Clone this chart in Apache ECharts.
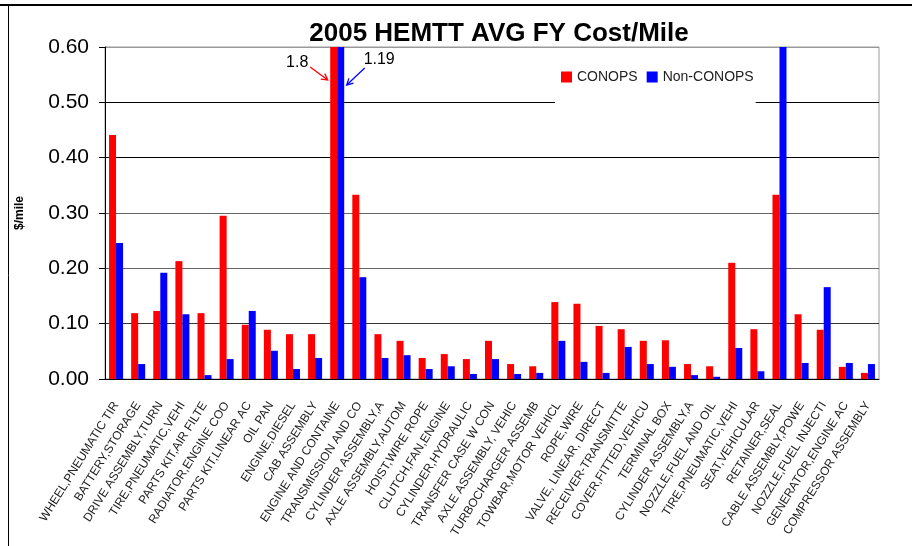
<!DOCTYPE html>
<html>
<head>
<meta charset="utf-8">
<script src="https://cdn.jsdelivr.net/npm/echarts@6/dist/echarts.min.js"></script>
<style>
  html, body { margin: 0; padding: 0; background: #fff; }
  #main { width: 912px; height: 546px; }
</style>
</head>
<body>
<div id="main"></div>
<script>
// categories (parts) and cost per mile values
var parts = ['WHEEL,PNEUMATIC TIR', 'BATTERY,STORAGE', 'DRIVE ASSEMBLY,TURN', 'TIRE,PNEUMATIC,VEHI',
  'PARTS KIT,AIR FILTE', 'RADIATOR,ENGINE COO', 'PARTS KIT,LINEAR AC', 'OIL PAN', 'ENGINE,DIESEL',
  'CAB ASSEMBLY', 'ENGINE AND CONTAINE', 'TRANSMISSION AND CO', 'CYLINDER ASSEMBLY,A',
  'AXLE ASSEMBLY,AUTOM', 'HOIST,WIRE ROPE', 'CLUTCH,FAN,ENGINE', 'CYLINDER,HYDRAULIC',
  'TRANSFER CASE W CON', 'AXLE ASSEMBLY, VEHIC', 'TURBOCHARGER ASSEMB', 'TOWBAR,MOTOR VEHICL',
  'ROPE,WIRE', 'VALVE, LINEAR, DIRECT', 'RECEIVER-TRANSMITTE', 'COVER,FITTED,VEHICU', 'TERMINAL BOX',
  'CYLINDER ASSEMBLY,A', 'NOZZLE,FUEL AND OIL', 'TIRE,PNEUMATIC,VEHI', 'SEAT,VEHICULAR',
  'RETAINER,SEAL', 'CABLE ASSEMBLY,POWE', 'NOZZLE,FUEL INJECTI', 'GENERATOR,ENGINE AC',
  'COMPRESSOR ASSEMBLY'];

var conops = [0.441, 0.119, 0.123, 0.213, 0.119, 0.295, 0.098, 0.089, 0.081, 0.081,
  1.8, 0.333, 0.081, 0.069, 0.038, 0.045, 0.036, 0.069, 0.027, 0.023,
  0.139, 0.136, 0.096, 0.090, 0.069, 0.070, 0.027, 0.023, 0.210, 0.090,
  0.333, 0.117, 0.089, 0.022, 0.011];

var nonConops = [0.246, 0.027, 0.192, 0.117, 0.007, 0.036, 0.123, 0.051, 0.018, 0.038,
  1.19, 0.184, 0.038, 0.043, 0.018, 0.023, 0.009, 0.036, 0.009, 0.011,
  0.069, 0.031, 0.011, 0.058, 0.027, 0.022, 0.007, 0.004, 0.056, 0.014,
  0.65, 0.029, 0.166, 0.029, 0.027];

var yTicks = [0, 0.1, 0.2, 0.3, 0.4, 0.5, 0.6];

// the clipped bar that gets the value callouts
var calloutIndex = 10;

var font = 'Liberation Sans, Arial, sans-serif';
var chart = echarts.init(document.getElementById('main'));

var option = {
  animation: false,
  title: {
    text: '2005 HEMTT AVG FY Cost/Mile',
    left: 494,
    top: 16,
    textAlign: 'center',
    textStyle: { fontFamily: font, fontSize: 26, fontWeight: 'bold', color: '#000' }
  },
  legend: {
    data: ['CONOPS', 'Non-CONOPS'],
    left: 555,
    top: 63,
    padding: [7, 2, 26, 6],
    backgroundColor: '#fff',
    icon: 'rect',
    itemWidth: 11,
    itemHeight: 11,
    itemGap: 9,
    textStyle: { fontFamily: font, fontSize: 14, color: '#222' }
  },
  grid: {
    left: 105,
    right: 33,
    top: 47,
    bottom: 167,
    show: true,
    borderColor: '#999',
    borderWidth: 1
  },
  xAxis: {
    type: 'category',
    data: parts,
    axisLine: { lineStyle: { color: '#000', width: 1 } },
    axisTick: { length: 5, lineStyle: { color: '#000' } },
    axisLabel: {
      interval: 0,
      rotate: 58,
      margin: 24,
      fontFamily: font,
      fontSize: 12,
      color: '#222'
    }
  },
  yAxis: {
    type: 'value',
    min: 0,
    max: 0.6,
    interval: 0.1,
    name: '$/mile',
    nameLocation: 'middle',
    nameGap: 79,
    nameTextStyle: { fontFamily: font, fontSize: 12, fontWeight: 'bold', color: '#000' },
    axisLine: { show: true, lineStyle: { color: '#000', width: 1 } },
    axisTick: { show: true, length: 6, lineStyle: { color: '#000' } },
    axisLabel: {
      margin: 16,
      fontFamily: font,
      fontSize: 21,
      color: '#000',
      formatter: function (v) { return v.toFixed(2); }
    },
    splitLine: {
      lineStyle: { color: ['#000', '#333', '#666', '#666', '#000', '#000', '#999'], width: 1 }
    }
  },
  series: [
    {
      name: 'CONOPS',
      type: 'bar',
      data: conops,
      barWidth: 7,
      barGap: '0%',
      itemStyle: { color: '#ff0000' }
    },
    {
      name: 'Non-CONOPS',
      type: 'bar',
      data: nonConops,
      barWidth: 7,
      itemStyle: { color: '#0000ff' }
    }
  ]
};

chart.setOption(option);

// arrow = shaft + head, built from a start and a tip point
function arrow(x1, y1, x2, y2, color) {
  var a = Math.atan2(y2 - y1, x2 - x1);
  var h = 7, w = 0.5;
  return {
    type: 'group',
    children: [
      { type: 'line', shape: { x1: x1, y1: y1, x2: x2, y2: y2 }, style: { stroke: color, lineWidth: 1.3 } },
      {
        type: 'polyline',
        shape: { points: [
          [x2 - h * Math.cos(a - w), y2 - h * Math.sin(a - w)],
          [x2, y2],
          [x2 - h * Math.cos(a + w), y2 - h * Math.sin(a + w)]
        ] },
        style: { stroke: color, lineWidth: 1.3, fill: null }
      }
    ]
  };
}

var top0 = chart.convertToPixel({ xAxisIndex: 0, yAxisIndex: 0 }, [calloutIndex, yTicks[yTicks.length - 1]]);
var cx = top0[0], ty = top0[1];

chart.setOption({
  graphic: [
    // outer frame
    { type: 'line', shape: { x1: 0, y1: 5, x2: 912, y2: 5 }, style: { stroke: '#000', lineWidth: 2 } },
    { type: 'line', shape: { x1: 8.5, y1: 5, x2: 8.5, y2: 546 }, style: { stroke: '#000', lineWidth: 1 } },
    {
      type: 'text', x: cx - 40, y: ty + 16,
      style: { text: String(conops[calloutIndex]), font: '16px ' + font, fill: '#000', textAlign: 'center', textVerticalAlign: 'middle' }
    },
    {
      type: 'text', x: cx + 42, y: ty + 13,
      style: { text: String(nonConops[calloutIndex]), font: '16px ' + font, fill: '#000', textAlign: 'center', textVerticalAlign: 'middle' }
    },
    arrow(cx - 27, ty + 20, cx - 9.5, ty + 33, '#ff0000'),
    arrow(cx + 27.5, ty + 21, cx + 9.5, ty + 38, '#0000ff')
  ]
});
</script>
</body>
</html>
